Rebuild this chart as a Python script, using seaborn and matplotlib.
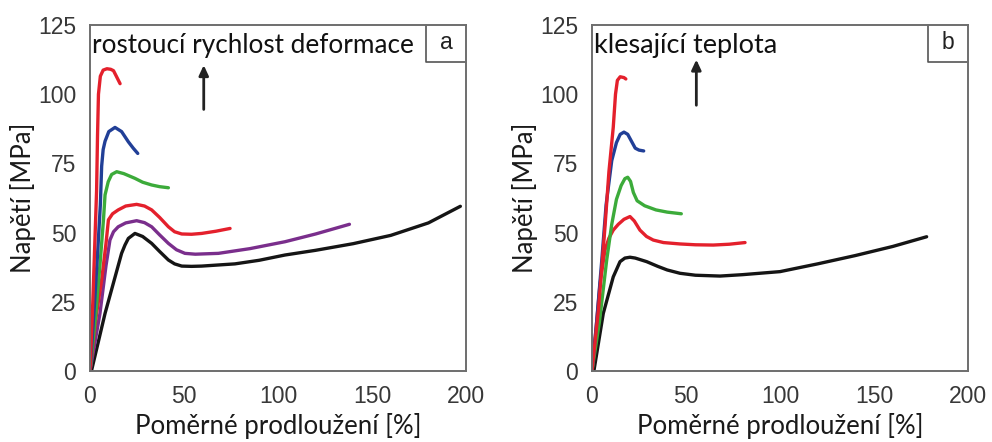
import numpy as np
import pandas as pd
import matplotlib
matplotlib.use("Agg")
import matplotlib.pyplot as plt
import seaborn as sns

# ---- data: panel a (increasing strain rate) ----
a_red_top_x = [0, 1.5, 2.5, 3.5, 4, 4.5, 5.5, 7, 9, 11, 12.5, 14, 16]
a_red_top_y = [0, 25, 45, 65, 85, 100, 106.5, 108.7, 109.2, 109, 108.5, 106.5, 103.8]
a_blue_x = [0, 2, 4, 5.5, 6.2, 7, 8, 10, 13.3, 16.8, 20.4, 23, 25.4]
a_blue_y = [0, 20, 42, 60, 74, 80, 83, 86.5, 88, 86.5, 82.8, 80.5, 78.6]
a_green_x = [0, 3, 5.5, 7.2, 8, 9.7, 11.5, 14.2, 18, 23.9, 28, 32.8, 37, 41.7]
a_green_y = [0, 20, 40, 55, 63.6, 68.4, 71, 72, 71.3, 69.6, 68.2, 67.2, 66.6, 66.2]
a_red_x = [0, 3.5, 6.2, 8.5, 9.8, 12, 15, 19, 24.8, 29, 32.8, 37, 41.7, 45, 48.8, 54, 59.4, 67, 74.5]
a_red_y = [0, 20.8, 32.9, 46, 54.6, 56.8, 58.2, 59.6, 60.2, 59.6, 58.2, 55.5, 52.1, 50.3, 49.5, 49.4, 49.7, 50.5, 51.5]
a_purple_x = [0, 5.3, 8.5, 10.6, 12.5, 15, 19, 24.8, 29, 32.8, 37, 41.7, 46, 50.5, 56, 68.3, 85, 103.7, 120, 138]
a_purple_y = [0, 20.8, 38, 47.3, 50.3, 52.1, 53.5, 54.3, 53.6, 52.1, 49.2, 46.1, 43.8, 42.5, 42.2, 42.5, 44.2, 46.7, 49.5, 53]
a_black_x = [0.9, 8, 16.8, 18.6, 20.4, 23.9, 28, 32.8, 37, 41.7, 45, 48.8, 54, 59.4, 77.1, 90, 103.7, 120, 140, 160, 180, 197]
a_black_y = [0.4, 20.8, 42.5, 45.5, 47.9, 49.7, 48.6, 46.1, 43.2, 40.1, 38.7, 37.9, 37.8, 37.9, 38.7, 40, 41.9, 43.6, 46, 49, 53.5, 59.5]

# ---- data: panel b (decreasing temperature) ----
b_red_top_x = [0, 3.4, 6.9, 9, 11.3, 12.5, 13.5, 15, 17, 18]
b_red_top_y = [0, 22, 52, 72, 88, 100, 105, 106.3, 106, 105.5]
b_blue_x = [0, 2.5, 5.2, 7.5, 10.5, 13, 15, 17, 19, 21, 23, 25, 27.5]
b_blue_y = [0, 18, 40, 60, 76, 82.5, 85.5, 86.3, 85.5, 83, 80.5, 79.8, 79.5]
b_green_x = [0, 4, 7.8, 10.5, 13, 15.5, 17.5, 19, 20.5, 22, 24, 28, 34, 40, 47.5]
b_green_y = [0, 18, 40, 53, 62, 67, 69.5, 70, 68.5, 64.5, 61.5, 59.7, 58.2, 57.4, 56.8]
b_red_x = [0, 2, 4.3, 6.9, 9, 11.3, 14, 17, 20.2, 22.5, 25.5, 29, 32.6, 38, 46.8, 55, 64.5, 73, 81.4]
b_red_y = [0, 14, 31.7, 43.7, 48, 50.9, 53, 54.8, 55.8, 54.2, 50.9, 48.6, 47.3, 46.4, 45.9, 45.6, 45.5, 45.8, 46.4]
b_black_x = [1, 6, 11.3, 14.9, 17.5, 20.2, 23, 29.1, 35, 40, 46.8, 55, 68.1, 80, 100, 120, 140, 160, 178]
b_black_y = [0, 20.8, 34, 39.5, 40.8, 41.1, 40.8, 39.5, 37.8, 36.5, 35.3, 34.6, 34.3, 34.8, 35.9, 38.7, 41.7, 45, 48.5]

x_ticks = [0, 50, 100, 150, 200]
y_ticks = [0, 25, 50, 75, 100, 125]
x_label = "Poměrné prodloužení [%]"
y_label = "Napětí [MPa]"

RED = "#e4202c"
BLUE = "#213f97"
GREEN = "#3cab3a"
PURPLE = "#7a2e8c"
BLACK = "#151515"

panel_a = [
    ("black", a_black_x, a_black_y, BLACK),
    ("purple", a_purple_x, a_purple_y, PURPLE),
    ("red", a_red_x, a_red_y, RED),
    ("green", a_green_x, a_green_y, GREEN),
    ("blue", a_blue_x, a_blue_y, BLUE),
    ("redtop", a_red_top_x, a_red_top_y, RED),
]
panel_b = [
    ("black", b_black_x, b_black_y, BLACK),
    ("red", b_red_x, b_red_y, RED),
    ("green", b_green_x, b_green_y, GREEN),
    ("blue", b_blue_x, b_blue_y, BLUE),
    ("redtop", b_red_top_x, b_red_top_y, RED),
]

sns.set_style("white")
plt.rcParams["font.family"] = ["Lato", "DejaVu Sans"]

fig = plt.figure(figsize=(9.92, 4.42), dpi=100)
W, H = 992, 442

def make_ax(left_px):
    return fig.add_axes([left_px / W, (H - 371) / H, 376 / W, 346 / H])

ax_a = make_ax(90)
ax_b = make_ax(592)

TICK_FONT = ["Liberation Sans", "DejaVu Sans"]

def style(ax, letter, note, note_size, arrow_x, arrow_y0, arrow_y1):
    ax.set_xlim(0, 200)
    ax.set_ylim(0, 125)
    ax.set_xticks(x_ticks)
    ax.set_yticks(y_ticks)
    for lab in ax.get_xticklabels() + ax.get_yticklabels():
        lab.set_family(TICK_FONT)
        lab.set_fontsize(16.5)
        lab.set_color("#383838")
    ax.tick_params(axis="both", direction="out", length=6, width=1.3, color="#666666", pad=4)
    for s in ax.spines.values():
        s.set_color("#6e6e6e")
        s.set_linewidth(1.4)
    ax.set_xlabel(x_label, fontsize=18.5, color="#1a1a1a", labelpad=4)
    ax.set_ylabel(y_label, fontsize=18.5, color="#1a1a1a", labelpad=1)
    # letter box
    ax.text(0.947, 0.948, letter, transform=ax.transAxes, ha="center", va="center",
            fontsize=16.5, color="#222222", family=TICK_FONT)
    bx0 = 0.894
    by0 = (371 - 62) / 346
    ax.plot([bx0, bx0, 1.0], [1.0, by0, by0], transform=ax.transAxes, color="#555555",
            lw=1.2, clip_on=False)
    ax.text(0.006, 0.94, note, transform=ax.transAxes, ha="left", va="center",
            fontsize=note_size, color="#111111")
    ax.annotate("", xy=(arrow_x, arrow_y1), xytext=(arrow_x, arrow_y0),
                arrowprops=dict(arrowstyle="-|>,head_length=0.6,head_width=0.28",
                                color="#222222", lw=2.0))

def draw(ax, curves):
    for name, xs, ys, col in curves:
        df = pd.DataFrame({"x": xs, "y": ys})
        sns.lineplot(data=df, x="x", y="y", ax=ax, color=col, lw=2.4, sort=False,
                     estimator=None, solid_capstyle="round", solid_joinstyle="round")

draw(ax_a, panel_a)
draw(ax_b, panel_b)
style(ax_a, "a", "rostoucí rychlost deformace", 18.8, 60.5, 93.5, 111.5)
style(ax_b, "b", "klesající teplota", 19.5, 55.5, 95, 113.5)

fig.savefig("out.png", dpi=100)
